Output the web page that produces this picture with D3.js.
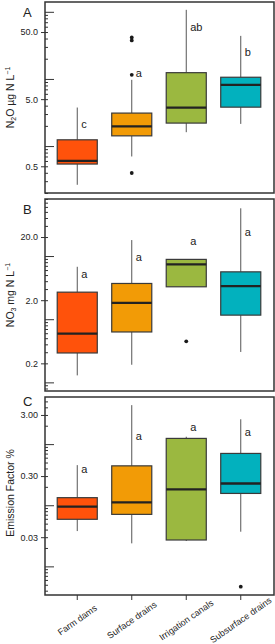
<!DOCTYPE html>
<html>
<head>
<meta charset="utf-8">
<script src="https://cdn.jsdelivr.net/npm/d3@7"></script>
<style>
  body { margin: 0; background: #fff; }
  text { font-family: "Liberation Sans", Arial, sans-serif; fill: #222; }
</style>
</head>
<body>
<div id="chart"></div>
<script>
// data
const categories = ['Farm dams', 'Surface drains', 'Irrigation canals', 'Subsurface drains'];
const fills      = ['#ff520b', '#f29b06', '#9bb840', '#02b1be'];

// [whisker low, q1, median, q3, whisker high]
const n2oBoxes     = [[0.265, 0.54, 0.604, 1.24, 3.75], [0.70, 1.42, 1.96, 3.10, 9.7],
                      [1.61, 2.20, 3.75, 12.4, 107], [2.14, 3.8, 8.16, 10.6, 43.8]];
const n2oOutliers  = [[], [41.6, 37.5, 11.5, 0.397], [], []];
const n2oLetters   = ['c', 'a', 'ab', 'b'];
const n2oLetterAt  = [2.14, 12.3, 59.5, 25.2];
const n2oTicks     = [50, 5, 0.5];
const n2oTickText  = ['50.0', '5.0', '0.5'];

const no3Boxes     = [[0.129, 0.292, 0.592, 2.68, 6.76], [0.19, 0.628, 1.81, 3.68, 17.9],
                      [3.26, 3.26, 7.37, 8.85, 8.85], [0.303, 1.16, 3.33, 5.62, 57]];
const no3Outliers  = [[], [], [0.447], []];
const no3Letters   = ['a', 'a', 'a', 'a'];
const no3LetterAt  = [5.11, 9.73, 17.5, 24.3];
const no3Ticks     = [20, 2, 0.2];
const no3TickText  = ['20.0', '2.0', '0.2'];

const efBoxes      = [[0.0378, 0.0589, 0.0946, 0.133, 0.453], [0.0238, 0.0709, 0.111, 0.441, 4.34],
                      [0.026, 0.027, 0.182, 1.24, 1.32], [0.0369, 0.156, 0.227, 0.704, 2.55]];
const efOutliers   = [[], [], [], [0.00466]];
const efLetters    = ['a', 'a', 'a', 'a'];
const efLetterAt   = [0.385, 1.36, 1.92, 1.55];
const efTicks      = [3, 0.3, 0.03];
const efTickText   = ['3.00', '0.30', '0.03'];

// =============================================
// layout
const W = 275, H = 644;
const left = 45, right = 274;

const panels = [
  { tag: 'A', tagY: 17,  top: 2,   bottom: 193, domain: [0.2, 140],     boxes: n2oBoxes, outl: n2oOutliers,
    letters: n2oLetters, letterAt: n2oLetterAt, ticks: n2oTicks, tickText: n2oTickText,
    title: [['N', 0], ['2', -1], ['O µg N L', 0], ['−1', 1]] },
  { tag: 'B', tagY: 214, top: 199, bottom: 391, domain: [0.073, 80],    boxes: no3Boxes, outl: no3Outliers,
    letters: no3Letters, letterAt: no3LetterAt, ticks: no3Ticks, tickText: no3TickText,
    title: [['NO', 0], ['3', -1], [' mg N L', 0], ['−1', 1]] },
  { tag: 'C', tagY: 406, top: 397, bottom: 595, domain: [0.0034, 5.9], boxes: efBoxes, outl: efOutliers,
    letters: efLetters, letterAt: efLetterAt, ticks: efTicks, tickText: efTickText,
    title: [['Emission Factor %', 0]] }
];

let svg = d3.select('#chart')
            .append('svg')
            .attr('width', W)
            .attr('height', H);

let x = d3.scaleBand()
          .domain(categories)
          .range([50, 268])
          .paddingInner(0.265)
          .paddingOuter(0.1325);

panels.forEach(function(p, pi) {
  let y = d3.scaleLog().domain(p.domain).range([p.bottom, p.top]);
  let g = svg.append('g');

  // all log ticks inside the domain
  let all = [];
  for (let e = Math.floor(Math.log10(p.domain[0])); e <= Math.ceil(Math.log10(p.domain[1])); e++) {
    for (let k = 1; k <= 9; k++) {
      let v = k * Math.pow(10, e);
      if (v >= p.domain[0] && v <= p.domain[1]) all.push(v);
    }
  }
  const isLabel = v => p.ticks.some(t => Math.abs(t - v) / t < 1e-6);
  const isDecade = v => Math.abs(Math.log10(v) - Math.round(Math.log10(v))) < 1e-6;

  let axis = g.append('g')
              .attr('transform', 'translate(' + left + ',0)')
              .call(d3.axisLeft(y)
                      .tickValues(all)
                      .tickSize(-3)
                      .tickSizeOuter(0)
                      .tickPadding(7)
                      .tickFormat(v => {
                        let i = p.ticks.findIndex(t => Math.abs(t - v) / t < 1e-6);
                        return i >= 0 ? p.tickText[i] : '';
                      }));
  axis.select('.domain').remove();
  axis.selectAll('.tick line')
      .attr('stroke', '#333')
      .attr('stroke-width', 1)
      .attr('x1', d => isLabel(d) ? -4 : 0)
      .attr('x2', d => isDecade(d) ? 9 : 3);
  axis.selectAll('.tick text')
      .attr('font-size', 9)
      .style('font-family', '"Liberation Sans", Arial, sans-serif')
      .attr('fill', '#222');

  // boxes
  categories.forEach(function(c, i) {
    let b = p.boxes[i];
    let x0 = x(c), bw = x.bandwidth(), cx = x0 + bw / 2;
    g.append('line')
     .attr('x1', cx).attr('x2', cx)
     .attr('y1', y(b[4])).attr('y2', y(b[3]))
     .attr('stroke', '#555').attr('stroke-width', 1);
    g.append('line')
     .attr('x1', cx).attr('x2', cx)
     .attr('y1', y(b[1])).attr('y2', y(b[0]))
     .attr('stroke', '#555').attr('stroke-width', 1);
    g.append('rect')
     .attr('x', x0).attr('width', bw)
     .attr('y', y(b[3])).attr('height', y(b[1]) - y(b[3]))
     .attr('fill', fills[i])
     .attr('stroke', '#3a3a3a').attr('stroke-width', 1.2);
    g.append('line')
     .attr('x1', x0).attr('x2', x0 + bw)
     .attr('y1', y(b[2])).attr('y2', y(b[2]))
     .attr('stroke', '#222').attr('stroke-width', 2.3);

    g.selectAll(null)
     .data(p.outl[i])
     .enter()
     .append('circle')
     .attr('cx', cx).attr('cy', d => y(d))
     .attr('r', 1.9)
     .attr('fill', '#1a1a1a');

    g.append('text')
     .attr('x', cx + 4)
     .attr('y', y(p.letterAt[i]))
     .attr('dy', '0.35em')
     .attr('font-size', 11)
     .text(p.letters[i]);
  });

  // frame
  g.append('rect')
   .attr('x', left).attr('y', p.top)
   .attr('width', right - left).attr('height', p.bottom - p.top)
   .attr('fill', 'none')
   .attr('stroke', '#333')
   .attr('stroke-width', 1.5);

  // panel tag
  g.append('text')
   .attr('x', 23).attr('y', p.tagY)
   .attr('font-size', 13)
   .text(p.tag);

  // y title
  let cy = (p.top + p.bottom) / 2 - (pi === 2 ? 3 : 0);
  let t = g.append('text')
           .attr('transform', 'translate(14,' + cy + ') rotate(-90)')
           .attr('text-anchor', 'middle')
           .attr('font-size', 10.5);
  p.title.forEach(function(part) {
    let ts = t.append('tspan').text(part[0]);
    if (part[1] !== 0) {
      ts.attr('font-size', 7)
        .attr('baseline-shift', part[1] > 0 ? '60%' : '-25%');
    }
  });

  // x axis only under the last panel
  if (pi === panels.length - 1) {
    categories.forEach(function(c) {
      let cx = x(c) + x.bandwidth() / 2;
      g.append('line')
       .attr('x1', cx).attr('x2', cx)
       .attr('y1', p.bottom).attr('y2', p.bottom + 5)
       .attr('stroke', '#333').attr('stroke-width', 1);
      g.append('text')
       .attr('transform', 'translate(' + cx + ',' + (p.bottom + 25) + ') rotate(-35)')
       .attr('text-anchor', 'middle')
       .attr('dy', '0.35em')
       .attr('font-size', 9)
       .attr('fill', '#333')
       .text(c);
    });
  }
});
</script>
</body>
</html>
